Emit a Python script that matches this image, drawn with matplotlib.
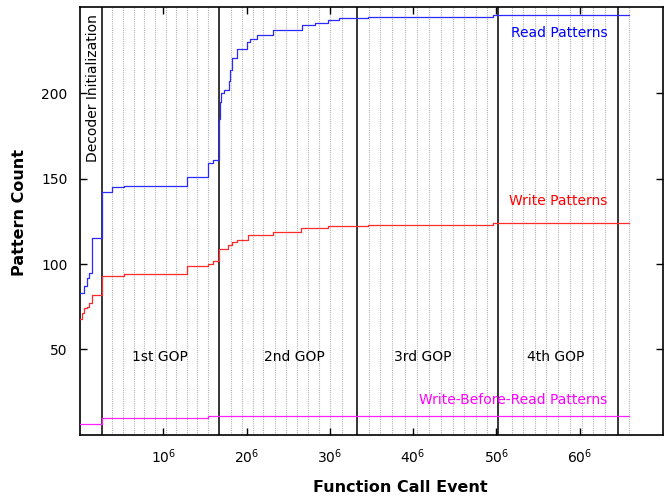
import matplotlib
matplotlib.use("Agg")
import matplotlib.pyplot as plt

# === DATA (x in millions of function call events) ===
read_x = [0.0, 0.05, 0.08, 0.11, 0.144, 0.264, 0.384, 0.528, 1.285, 1.537, 1.597,
          1.669, 1.674, 1.679, 1.688, 1.73, 1.79, 1.80, 1.82, 1.881, 2.001, 2.041,
          2.121, 2.321, 2.661, 2.821, 2.981, 3.113, 3.461, 4.954, 6.594]
read_y = [83, 87, 92, 95, 115, 142, 145, 146, 151, 159, 161,
          170, 185, 195, 200, 202, 207, 214, 221, 226, 230, 232,
          234, 237, 240, 241, 243, 244, 245, 246, 246]

write_x = [0.0, 0.03, 0.05, 0.08, 0.11, 0.144, 0.264, 0.528, 1.285, 1.537, 1.597,
           1.669, 1.781, 1.821, 1.881, 2.021, 2.313, 2.649, 2.973, 3.461, 4.954, 6.594]
write_y = [68, 71, 74, 75, 77, 82, 93, 94, 99, 100, 102,
           109, 111, 113, 114, 117, 119, 121, 122, 123, 124, 124]

wbr_x = [0.0, 0.264, 1.54, 6.594]
wbr_y = [6, 10, 11, 11]

# GOP boundaries and frame boundaries
gop_bounds = [0.264, 1.669, 3.322, 5.022, 6.455]
gop_names = ["1st GOP", "2nd GOP", "3rd GOP", "4th GOP"]
gop_label_x = [0.96, 2.57, 4.12, 5.71]
frame_bounds = [0.384, 0.516, 0.648, 0.768, 0.900, 1.032, 1.152, 1.285, 1.405, 1.537,
                1.809, 1.941, 2.073, 2.200, 2.341, 2.473, 2.601, 2.741, 2.873, 3.001, 3.142,
                3.473, 3.601, 3.752, 3.902, 4.042, 4.193, 4.330, 4.474, 4.610, 4.754, 4.882,
                5.182, 5.322, 5.462, 5.594, 5.742, 5.882, 6.023, 6.162, 6.303, 6.594]

xticks = [1, 2, 3, 4, 5, 6]
xtick_labels = ["10$^{6}$", "20$^{6}$", "30$^{6}$", "40$^{6}$", "50$^{6}$", "60$^{6}$"]
yticks = [50, 100, 150, 200]

# === PLOT ===
fig = plt.figure(figsize=(6.65, 4.96), dpi=100)
ax = fig.add_axes([0.1203, 0.1238, 0.8767, 0.8615])

for fb in frame_bounds:
    ax.axvline(fb, color="#b4b4b4", lw=0.8, ls=(0, (1, 1)), zorder=1)
for gb in gop_bounds:
    ax.axvline(gb, color="black", lw=1.1, zorder=2)

ax.step(read_x, read_y, where="post", color="#2a2aff", lw=0.9, zorder=3)
ax.step(write_x, write_y, where="post", color="#ff2a2a", lw=0.9, zorder=3)
ax.step(wbr_x, wbr_y, where="post", color="#ff20ff", lw=0.9, zorder=3)

ax.text(5.75, 235.5, "Read Patterns", color="#0000ff", fontsize=10, ha="center", va="center")
ax.text(5.74, 136.9, "Write Patterns", color="#ff0000", fontsize=10, ha="center", va="center")
ax.text(5.20, 20.2, "Write-Before-Read Patterns", color="#ff00ff", fontsize=10,
        ha="center", va="center")

for xc, name in zip(gop_label_x, gop_names):
    ax.text(xc, 45.5, name, fontsize=10, ha="center", va="center")

ax.text(0.156, 203, "Decoder Initialization", fontsize=10, rotation=90,
        ha="center", va="center")

# === STYLE ===
ax.set_xlim(0, 7)
ax.set_ylim(0, 250.5)
ax.set_xticks(xticks)
ax.set_xticklabels(xtick_labels)
ax.set_yticks(yticks)
ax.tick_params(direction="in", length=5, width=1, top=True, right=True,
               labelsize=10, colors="black")
ax.tick_params(axis="x", pad=9)
ax.tick_params(axis="y", pad=9)
for s in ax.spines.values():
    s.set_linewidth(1.2)

fig.text(400 / 665, 1 - 487 / 496, "Function Call Event", fontsize=11.5,
         fontweight="bold", ha="center", va="center")
fig.text(20 / 665, 1 - 213 / 496, "Pattern Count", fontsize=11.5,
         fontweight="bold", ha="center", va="center", rotation=90)

plt.savefig("out.png", dpi=100)
